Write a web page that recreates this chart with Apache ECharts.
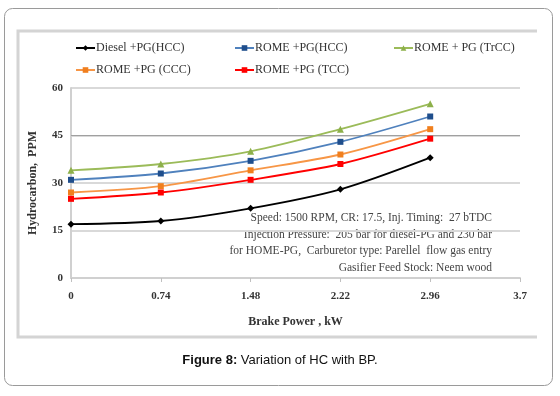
<!DOCTYPE html>
<html>
<head>
<meta charset="utf-8">
<script src="https://cdn.jsdelivr.net/npm/echarts@6/dist/echarts.min.js"></script>
<style>
  html, body { margin: 0; padding: 0; background: #fff; }
  #canvas { width: 560px; height: 396px; }
</style>
</head>
<body>
<div id="canvas"></div>
<script>
const brakePower = [0, 0.74, 1.48, 2.22, 2.96];
const dieselHCC = [17, 18, 22, 28, 38];
const romeHCC = [31, 33, 37, 43, 51];
const romeTrCC = [34, 36, 40, 47, 55];
const romeCCC = [27, 29, 34, 39, 47];
const romeTCC = [25, 27, 31, 36, 44];
const seriesNames = ['Diesel +PG(HCC)', 'ROME +PG(HCC)', 'ROME + PG (TrCC)', 'ROME +PG (CCC)', 'ROME +PG (TCC)'];
const noteLines = [
  'Speed: 1500 RPM, CR: 17.5, Inj. Timing:  27 bTDC',
  'Injection Pressure:  205 bar for diesel-PG and 230 bar',
  'for HOME-PG,  Carburetor type: Parellel  flow gas entry',
  'Gasifier Feed Stock: Neem wood'
];

const chart = echarts.init(document.getElementById('canvas'));
const serif = 'Liberation Serif';

const pair = (ys) => brakePower.map((x, i) => [x, ys[i]]);

const styles = [
  { data: dieselHCC, line: '#000000', mark: '#000000', symbol: 'diamond', size: 7 },
  { data: romeHCC, line: '#4f81bd', mark: '#1f4e8c', symbol: 'rect', size: 6 },
  { data: romeTrCC, line: '#9bbb59', mark: '#8db04a', symbol: 'triangle', size: 7 },
  { data: romeCCC, line: '#f79646', mark: '#f07f1e', symbol: 'rect', size: 6 },
  { data: romeTCC, line: '#ff0000', mark: '#ff0000', symbol: 'rect', size: 6 }
];

const series = styles.map((s, i) => ({
  name: seriesNames[i],
  type: 'line',
  smooth: 0.3,
  data: pair(s.data),
  symbol: s.symbol,
  symbolSize: s.size,
  lineStyle: { color: s.line, width: 1.8 },
  itemStyle: { color: s.mark },
  z: 5
}));

// the 45 gridline is drawn darker in the original
series[0].markLine = {
  silent: true,
  symbol: 'none',
  label: { show: false },
  lineStyle: { color: '#a0a0a0', width: 1, type: 'solid' },
  data: [{ yAxis: 45 }],
  z: 1
};

// legend positions (two rows)
const legendPos = [[75, 42], [234, 42], [393, 42], [75, 64], [234, 64]];
const legends = seriesNames.map((n, i) => ({
  data: [n],
  left: legendPos[i][0],
  top: legendPos[i][1],
  itemWidth: 19,
  itemHeight: 7,
  itemGap: 0,
  padding: 0,
  textStyle: { fontFamily: serif, fontSize: 12, color: '#333', padding: [0, 0, 0, -4] }
}));

const noteText = noteLines.map((t, i) => ({
  type: 'text',
  right: 68,
  top: 212 + i * 16.5,
  style: { text: t, fontFamily: serif, fontSize: 11.5, fill: '#444' },
  silent: true
}));

const option = {
  animation: false,
  backgroundColor: '#fff',
  legend: legends,
  grid: { left: 71, right: 40, top: 88, bottom: 118 },
  xAxis: {
    type: 'value',
    min: 0,
    max: 3.7,
    interval: 0.74,
    name: 'Brake Power , kW',
    nameLocation: 'middle',
    nameGap: 38,
    nameTextStyle: { fontFamily: serif, fontSize: 12, fontWeight: 'bold', color: '#333' },
    axisLine: { lineStyle: { color: '#d0d0d0', width: 2 } },
    axisTick: { show: true, length: 4, lineStyle: { color: '#c0c0c0' } },
    axisLabel: {
      margin: 13,
      fontFamily: serif,
      fontSize: 11,
      fontWeight: 'bold',
      color: '#333',
      formatter: (v) => String(parseFloat(v.toFixed(2)))
    },
    splitLine: { show: false }
  },
  yAxis: {
    type: 'value',
    min: 0,
    max: 60,
    interval: 15,
    name: 'Hydrocarbon,  PPM',
    nameLocation: 'middle',
    nameGap: 32,
    nameTextStyle: { fontFamily: serif, fontSize: 12, fontWeight: 'bold', color: '#333' },
    axisLine: { show: true, lineStyle: { color: '#d0d0d0', width: 2 } },
    axisTick: { show: false },
    axisLabel: { margin: 8, fontFamily: serif, fontSize: 11, fontWeight: 'bold', color: '#333' },
    splitLine: { lineStyle: { color: '#d9d9d9', width: 2 } }
  },
  title: {
    text: '{b|Figure 8:} Variation of HC with BP.',
    left: 'center',
    top: 349,
    textStyle: {
      fontFamily: 'Liberation Sans',
      fontSize: 13,
      fontWeight: 'normal',
      color: '#111',
      rich: { b: { fontFamily: 'Liberation Sans', fontSize: 13, fontWeight: 'bold', color: '#111' } }
    }
  },
  graphic: [
    {
      type: 'rect',
      shape: { x: 4.5, y: 8.5, width: 548, height: 377, r: 8 },
      style: { fill: 'none', stroke: '#9a9a9a', lineWidth: 1 },
      silent: true
    },
    {
      type: 'polyline',
      shape: { points: [[537, 31], [18, 31], [18, 337], [537, 337]] },
      style: { fill: 'none', stroke: '#d4d4d4', lineWidth: 3 },
      silent: true
    }
  ].concat(noteText),
  series
};

chart.setOption(option);
</script>
</body>
</html>
